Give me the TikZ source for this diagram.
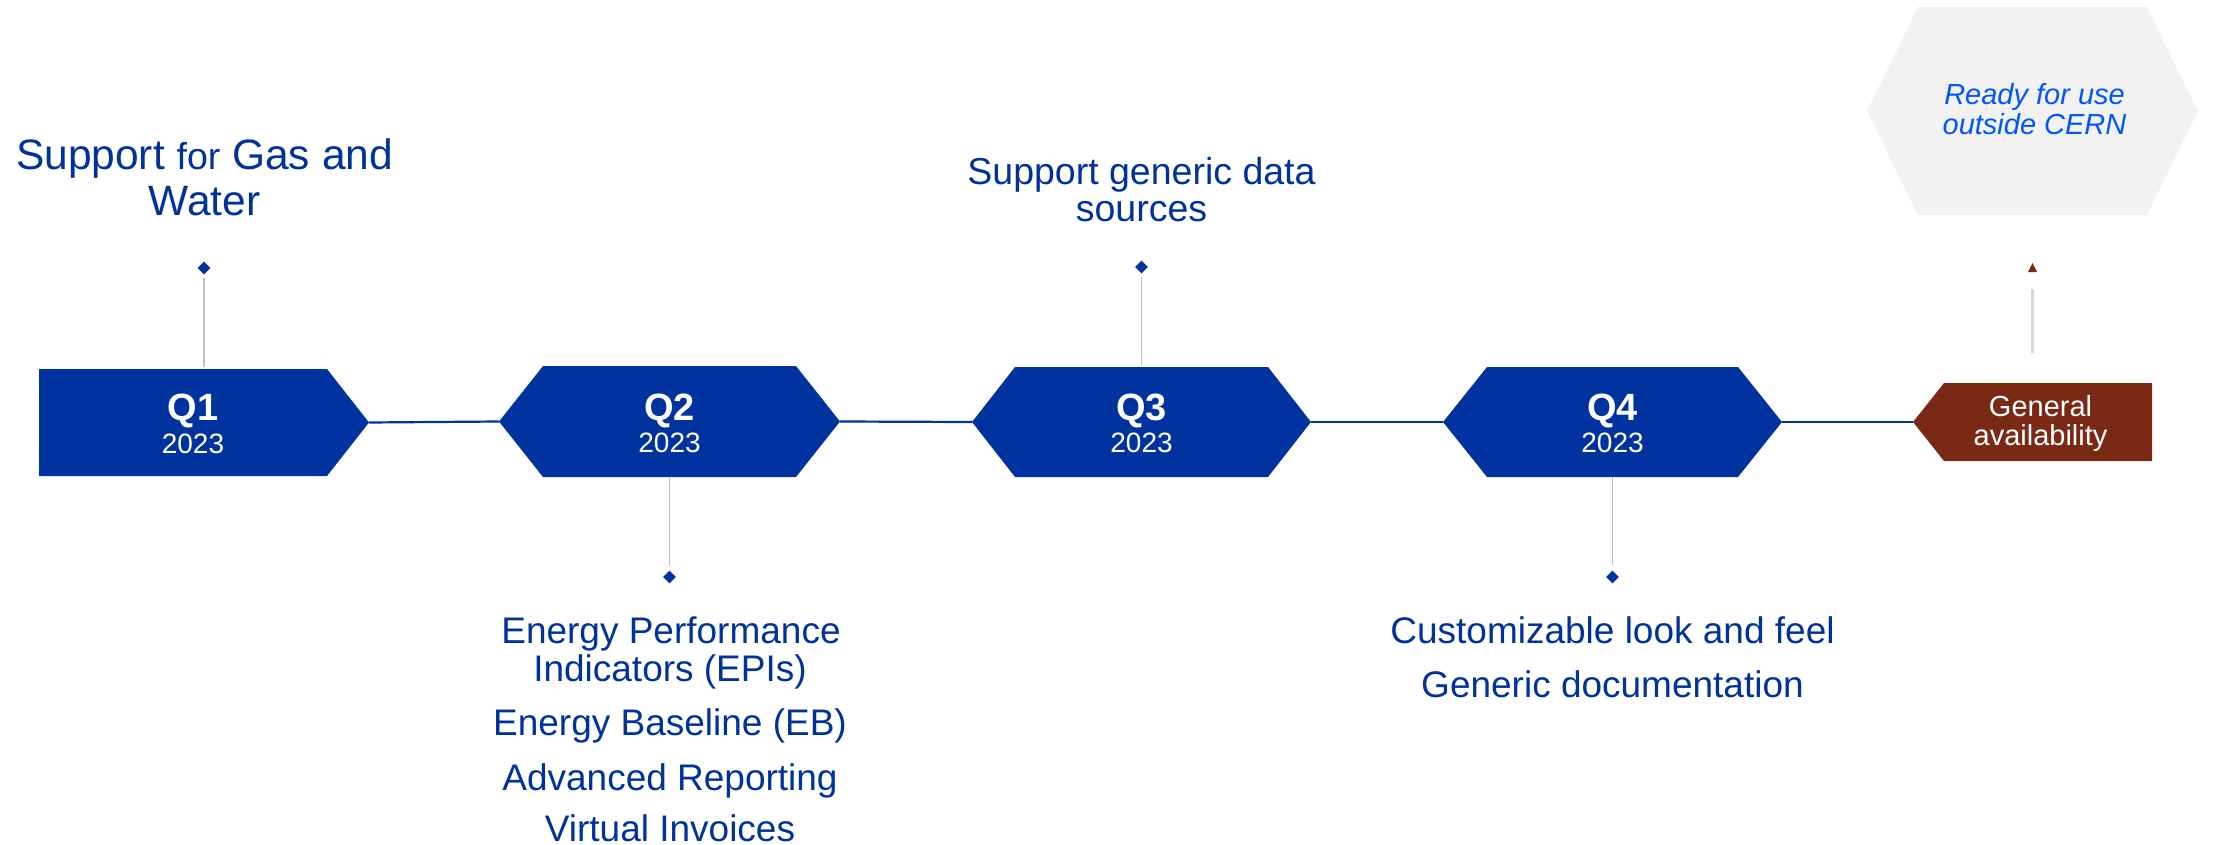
\documentclass[tikz,border=0pt]{standalone}
\usepackage{fontspec}
\setmainfont{Liberation Sans}
\usetikzlibrary{shapes.geometric}
\definecolor{qblue}{RGB}{0,51,160}
\definecolor{tblue}{RGB}{0,51,153}
\definecolor{gabrown}{RGB}{122,41,21}
\definecolor{rblue}{RGB}{0,85,255}
\definecolor{hexgray}{RGB}{242,242,242}
\definecolor{vgray}{RGB}{191,191,191}
\definecolor{lgray}{RGB}{217,217,217}
\newcommand\hexfill[3]{\fill[#3] (#1.west) -- ([xshift=#2]#1.north west) -- ([xshift=-#2]#1.north east) -- (#1.east) -- ([xshift=-#2]#1.south east) -- ([xshift=#2]#1.south west) -- cycle;}
\begin{document}
\begin{tikzpicture}[x=1pt,y=-1pt,
  shapebox/.style={rectangle, inner sep=0, outer sep=0},
  qtitle/.style={text=white, font=\bfseries\fontsize{38}{38}\selectfont, anchor=base, inner sep=0},
  qyear/.style={text=white, font=\fontsize{28}{28}\selectfont, anchor=base, inner sep=0},
  desc/.style={text=tblue, anchor=base, inner sep=0},
  mile/.style={diamond, fill=qblue, minimum width=13, minimum height=13, inner sep=0},
  vline/.style={draw=vgray, line width=1.3},
  mainline/.style={draw=qblue, line width=2.2},
  galine/.style={draw=lgray, line width=3}]
\useasboundingbox (0,0) rectangle (2213,845);

% shape nodes
\node[shapebox, minimum width=330, minimum height=107] (q1) at (204,422.5) {};
\node[shapebox, minimum width=341, minimum height=111] (q2) at (669.5,421.5) {};
\node[shapebox, minimum width=339, minimum height=110] (q3) at (1141.5,422) {};
\node[shapebox, minimum width=339, minimum height=110] (q4) at (1612.5,422) {};
\node[shapebox, minimum width=239, minimum height=78] (ga) at (2032.5,422) {};
\node[shapebox, minimum width=331, minimum height=208] (ready) at (2032.5,111) {};

% shape fills
\fill[qblue] (q1.south west) -- (q1.north west) -- ([xshift=-42]q1.north east) -- (q1.east) -- ([xshift=-42]q1.south east) -- cycle;
\hexfill{q2}{44}{qblue}
\hexfill{q3}{43}{qblue}
\hexfill{q4}{44}{qblue}
\hexfill{ready}{51}{hexgray}
\fill[gabrown] (ga.west) -- ([xshift=31]ga.north west) -- (ga.north east) -- (ga.south east) -- ([xshift=31]ga.south west) -- cycle;

% main timeline
\draw[mainline] (q1.east) -- (q2.west);
\draw[mainline] (q2.east) -- (q3.west);
\draw[mainline] (q3.east) -- (q4.west);
\draw[mainline] (q4.east) -- (ga.west);

% milestones
\node[mile] (d1) at (204,268) {};
\node[mile] (d2) at (669.5,577) {};
\node[mile] (d3) at (1141.5,267) {};
\node[mile] (d4) at (1612.5,577) {};
\draw[vline, shorten <=3, shorten >=2] (d1) -- (d1 |- q1.north);
\draw[vline, shorten <=3, shorten >=2] (d3) -- (d3 |- q3.north);
\draw[vline, shorten >=5] (q2.south) -- (d2);
\draw[vline, shorten >=5] (q4.south) -- (d4);

% general availability connector
\coordinate (gatip) at (2032.5,263);
\draw[galine] ([yshift=30]ga.north) -- ([yshift=-26]gatip);
\fill[gabrown] (gatip) -- ++(4.5,9) -- ++(-9,0) -- cycle;

% quarter labels
\node[qtitle] (q1t) at (193,420) {Q1};
\node[qyear] (q1y) at (193,453) {2023};
\node[qtitle] (q2t) at (669.5,420) {Q2};
\node[qyear] (q2y) at (669.5,452) {2023};
\node[qtitle] (q3t) at (1141.5,420) {Q3};
\node[qyear] (q3y) at (1141.5,452) {2023};
\node[qtitle] (q4t) at (1612.5,420) {Q4};
\node[qyear] (q4y) at (1612.5,452) {2023};

% GA and ready text
\node[anchor=base, inner sep=0, text=white, font=\fontsize{29}{29}\selectfont] (gat1) at (2040.5,416) {General};
\node[anchor=base, inner sep=0, text=white, font=\fontsize{29}{29}\selectfont] (gat2) at (2040.5,445) {availability};
\node[anchor=base, inner sep=0, text=rblue, font=\itshape\fontsize{29}{29}\selectfont] (rt1) at (2034.5,105) {Ready for use};
\node[anchor=base, inner sep=0, text=rblue, font=\itshape\fontsize{29}{29}\selectfont] (rt2) at (2034.5,135) {outside CERN};

% descriptions
\node[desc, font=\fontsize{42.5}{42.5}\selectfont] (t1a) at (204.5,170) {Support {\fontsize{37.5}{37.5}\selectfont for} Gas and};
\node[desc, font=\fontsize{42.5}{42.5}\selectfont] (t1b) at (204.5,215) {Water};

\node[desc, font=\fontsize{37.5}{37.5}\selectfont] (t3a) at (1141.5,185) {Support generic data};
\node[desc, font=\fontsize{37.5}{37.5}\selectfont] (t3b) at (1141.5,222) {sources};

\node[desc, font=\fontsize{37}{37}\selectfont] (t2a) at (671,643) {Energy Performance};
\node[desc, font=\fontsize{37}{37}\selectfont] (t2b) at (670,681) {Indicators (EPIs)};
\node[desc, font=\fontsize{37}{37}\selectfont] (t2c) at (670,735) {Energy Baseline (EB)};
\node[desc, font=\fontsize{37}{37}\selectfont] (t2d) at (670,790) {Advanced Reporting};
\node[desc, font=\fontsize{37}{37}\selectfont] (t2e) at (670,841) {Virtual Invoices};

\node[desc, font=\fontsize{37}{37}\selectfont] (t4a) at (1612.5,643) {Customizable look and feel};
\node[desc, font=\fontsize{37}{37}\selectfont] (t4b) at (1612.5,697) {Generic documentation};
\end{tikzpicture}
\end{document}
